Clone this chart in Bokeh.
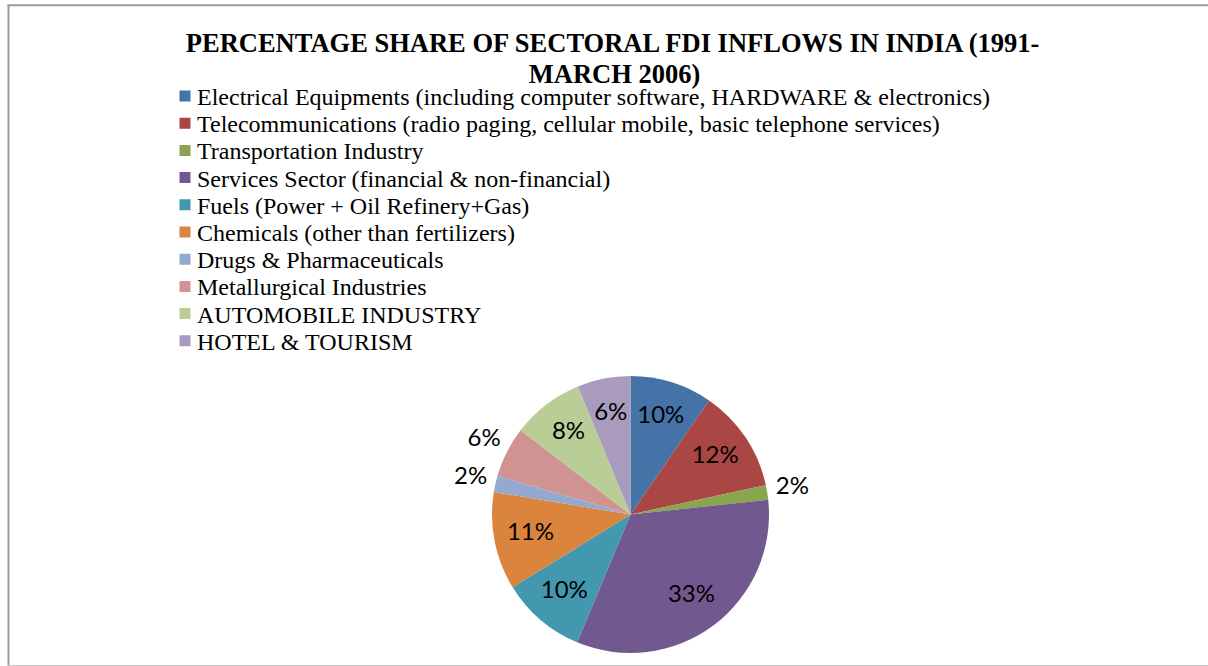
import math
from bokeh.plotting import figure
from bokeh.models import Range1d, ColumnDataSource
from bokeh.core.properties import value
from bokeh.embed import file_html
from bokeh.resources import INLINE

# ---------------- data ----------------
title_text = "PERCENTAGE SHARE OF SECTORAL FDI INFLOWS IN INDIA (1991-\nMARCH 2006)"
sectors = [
    "Electrical Equipments (including computer software, HARDWARE  & electronics)",
    "Telecommunications (radio paging, cellular mobile, basic telephone services)",
    "Transportation Industry",
    "Services Sector (financial & non-financial)",
    "Fuels (Power + Oil Refinery+Gas)",
    "Chemicals (other than fertilizers)",
    "Drugs & Pharmaceuticals",
    "Metallurgical Industries",
    "AUTOMOBILE INDUSTRY",
    "HOTEL & TOURISM",
]
shares = [9.6, 12.0, 1.7, 33.0, 9.9, 11.4, 1.9, 5.9, 8.4, 6.2]
colors = ["#4572A7", "#AA4643", "#89A54E", "#71588F", "#4198AF",
          "#DB843D", "#93A9CF", "#D19392", "#B9CD96", "#A99BBD"]
label_outside = [False, False, True, False, False, False, True, True, False, False]

# ---------------- layout ----------------
W, H = 1208, 666
def Y(py):
    return H - py

cx, cy, R = 630.0, Y(514), 138.5
r_in, r_out = 102.0, 164.0
label_dy = 4.0

total = sum(shares)
starts, ends, lx, ly, ltxt = [], [], [], [], []
cum = 0.0
for s, out in zip(shares, label_outside):
    a = cum / total
    b = (cum + s) / total
    cum += s
    starts.append(math.pi / 2 - 2 * math.pi * b)
    ends.append(math.pi / 2 - 2 * math.pi * a)
    m = (a + b) / 2
    th = math.pi / 2 - 2 * math.pi * m
    rr = r_out if out else r_in
    lx.append(cx + rr * math.cos(th))
    ly.append(cy + rr * math.sin(th) + label_dy)
    ltxt.append(f"{round(s / total * 100):d}%")

p = figure(width=W, height=H, output_backend="svg", toolbar_location=None,
           x_range=Range1d(0, W), y_range=Range1d(0, H),
           x_axis_type=None, y_axis_type=None, min_border=0)
p.grid.visible = False
p.outline_line_color = None
p.background_fill_color = "white"
p.border_fill_color = "white"

# chart border
p.line(x=[8, 8], y=[Y(4.5), Y(665)], line_color="#9a9a9a", line_width=2)
p.line(x=[7, W + 5], y=[Y(4.8), Y(4.8)], line_color="#9a9a9a", line_width=2)
p.line(x=[7, W + 5], y=[Y(665.2), Y(665.2)], line_color="#c8c8c8", line_width=1.5)

# pie
src = ColumnDataSource(dict(start=starts, end=ends, color=colors))
p.wedge(x=cx, y=cy, radius=R, start_angle="start", end_angle="end",
        fill_color="color", line_color=None, source=src)

# data labels
p.text(x=lx, y=ly, text=ltxt, text_align="center", text_baseline="middle",
       text_font=value("Lato"), text_font_size="24px", text_color="black")

# title
p.text(x=[614], y=[Y(58)], text=[title_text], text_align="center",
       text_baseline="middle", text_font=value("Liberation Serif"),
       text_font_style="bold", text_font_size="26.5px", text_color="black",
       text_line_height=1.06)

# legend
sq_x = 184.5
sq_y = [Y(95.5 + 27.2 * i) for i in range(len(sectors))]
p.scatter(x=[sq_x] * len(sectors), y=sq_y, marker="square", size=11,
          fill_color=colors, line_color=None)
p.text(x=[196.5] * len(sectors), y=[v - 1 for v in sq_y], text=sectors,
       text_align="left", text_baseline="middle",
       text_font=value("Liberation Serif"), text_font_size="24px",
       text_color="black")

open("out.html", "w").write(file_html(p, INLINE))
